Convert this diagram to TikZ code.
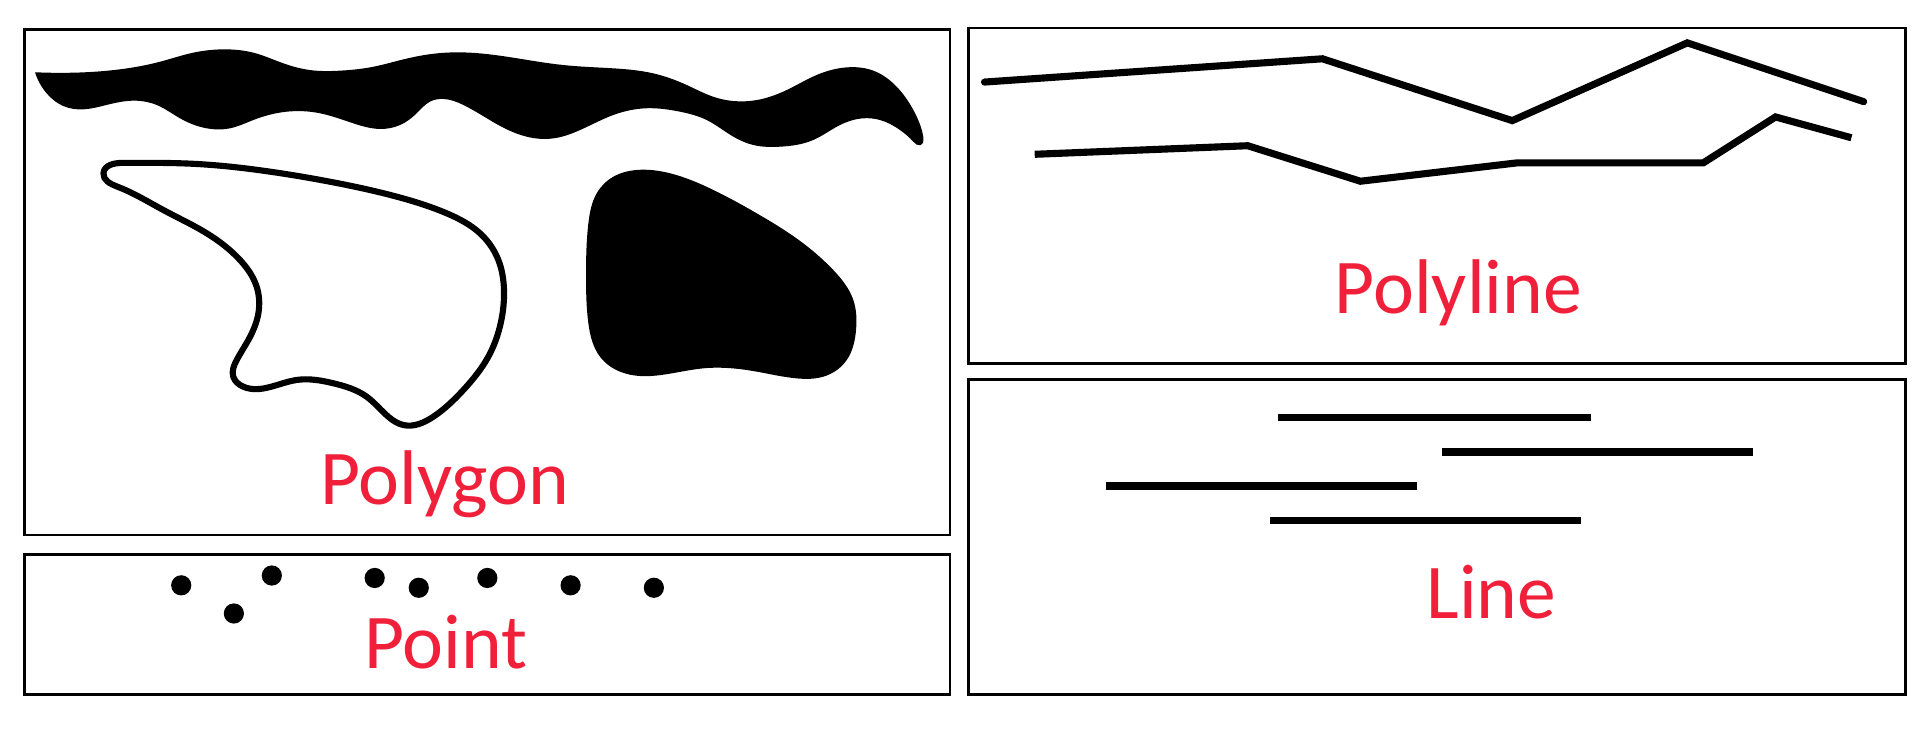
\documentclass[tikz,border=0pt]{standalone}
\usepackage{fontspec}
\setmainfont{Carlito}
\usepackage{xcolor}
\usepackage{tikz}
\usetikzlibrary{hobby}
\definecolor{gtred}{HTML}{F0203A}

\begin{document}
\begin{tikzpicture}[x=0.01cm,y=-0.01cm,use Hobby shortcut,
      panel/.style={draw,line width=0.6pt},
      tag/.style={anchor=base,text=gtred,inner sep=0pt,font=\fontsize{18}{20}\selectfont},
      pt/.style={circle,fill,inner sep=0pt,minimum size=0.165cm},
      seg/.style={line width=0.06cm},
      pline/.style={line width=0.058cm,line join=miter}]
    \useasboundingbox (0,0) rectangle (1568,599);
    % four panels
    \draw[panel] (20,24) rectangle (776,437);
    \draw[panel] (20,453) rectangle (776,567);
    \draw[panel] (791,23) rectangle (1556,297);
    \draw[panel] (791,310) rectangle (1556,567);
    % polygons
    \fill (28.6,59) .. (57.2,59.4) .. (98,56.6) .. (130.7,50.4) .. (157.9,43) .. (185,40.3)
      .. (206.9,43) .. (231.4,51.7) .. (253.2,57.2) .. (277.7,57.7) .. (304.9,54.5) .. (329.4,48.5)
      .. (356.6,43.6) .. (383.8,43) .. (460,53.1) .. (500.9,55.8) .. (533.5,59.9) .. (560.8,69.4)
      .. (582.5,79) .. (598.9,82.5) .. (618,81.7) .. (642.5,73.5) .. (667,61.2) .. (691.5,55)
      .. (713.2,57.7) .. (732.3,70.8) .. (745.9,89.8) .. (754,111.6) .. (751.5,118.6)
      .. (745.9,115.7) .. (735,106.2) .. (718.7,98) .. (705,96.6) .. (686,102.1) .. (664.2,114.3)
      .. (637,119.8) .. (615.2,118.4) .. (598.9,111.6) .. (577.1,98) .. (555.3,91.2) .. (528.1,88.4)
      .. (500.9,93.9) .. (473.7,106.2) .. (451.9,113) .. (430.1,111.6) .. (408.3,102.8)
      .. (378.4,85.7) .. (362,80.8) .. (351.2,83) .. (340.3,92.5) .. (326.7,102.1) .. (310.3,105.3)
      .. (288.5,100.7) .. (261.3,92.5) .. (234.1,91.2) .. (206.9,98) .. (187.8,104.8)
      .. (168.8,104.8) .. (147,96.6) .. (127.9,85.7) .. (108.9,82.2) .. (87.1,85.7) .. (68,89.3)
      .. (51.7,86.6) .. (38.1,76.2) .. (28.6,59) -- cycle;
    \draw[line width=0.05cm,closed=true] (84.5,141.5) .. (100,133) .. (160.6,133.9) .. (215,139.4)
      .. (269.5,148.4) .. (324,160.6) .. (364.8,174.2) .. (392,190.5) .. (407,212.3) .. (411.6,236.8)
      .. (408.9,264) .. (398.8,291.3) .. (378.4,318.5) .. (353.9,340.3) .. (329.4,347.1)
      .. (317.1,340.3) .. (299.5,324) .. (272.2,313) .. (242.3,310.3) .. (198.7,315.8)
      .. (190.5,307.6) .. (193.3,294) .. (202.8,277.7) .. (211,255.9) .. (209.6,234.1) .. (196,212.3)
      .. (168.8,190.5) .. (133.4,171.5) .. (96,152.5);
    \fill[closed=true] (520,138.8) .. (547.2,141.5) .. (579.8,153.8) .. (618,174.2) .. (656,198.7)
      .. (680.5,220.5) .. (696.9,245) .. (699.1,269.5) .. (691.5,294) .. (672.4,307.6) .. (650.6,309)
      .. (618,303.5) .. (574.4,300.8) .. (506.3,303.5) .. (490,291.3) .. (480.5,264)
      .. (478.6,226) .. (480.5,182.4) .. (487.3,157.9) .. (500.9,144.3);
    \node[tag] (polygon) at (363,412) {Polygon};
    % points
    \foreach \px/\py [count=\i] in {148/478,191/501,222/470,306/472,342/480,398/472,466/478,534/480}
      \node[pt] (p\i) at (\px,\py) {};
    \node[tag] (point) at (364,546) {Point};
    % polylines
    \draw[pline,line cap=round] (804,67) -- (1080,48) -- (1235,98.5) -- (1378,35) -- (1522,83);
    \draw[pline] (845,126) -- (1019,119) -- (1111,148) -- (1239,133) -- (1391,133) -- (1450,95.5)
      -- (1512,112.5);
    \node[tag] (polyline) at (1191,256) {Polyline};
    % lines
    \draw[seg] (1044,341) -- (1299,341);
    \draw[seg] (1178,369) -- (1432,369);
    \draw[seg] (903,397) -- (1157,397);
    \draw[seg] (1037,425) -- (1291,425);
    \node[tag] (line) at (1218,505) {Line};
  \end{tikzpicture}
\end{document}
